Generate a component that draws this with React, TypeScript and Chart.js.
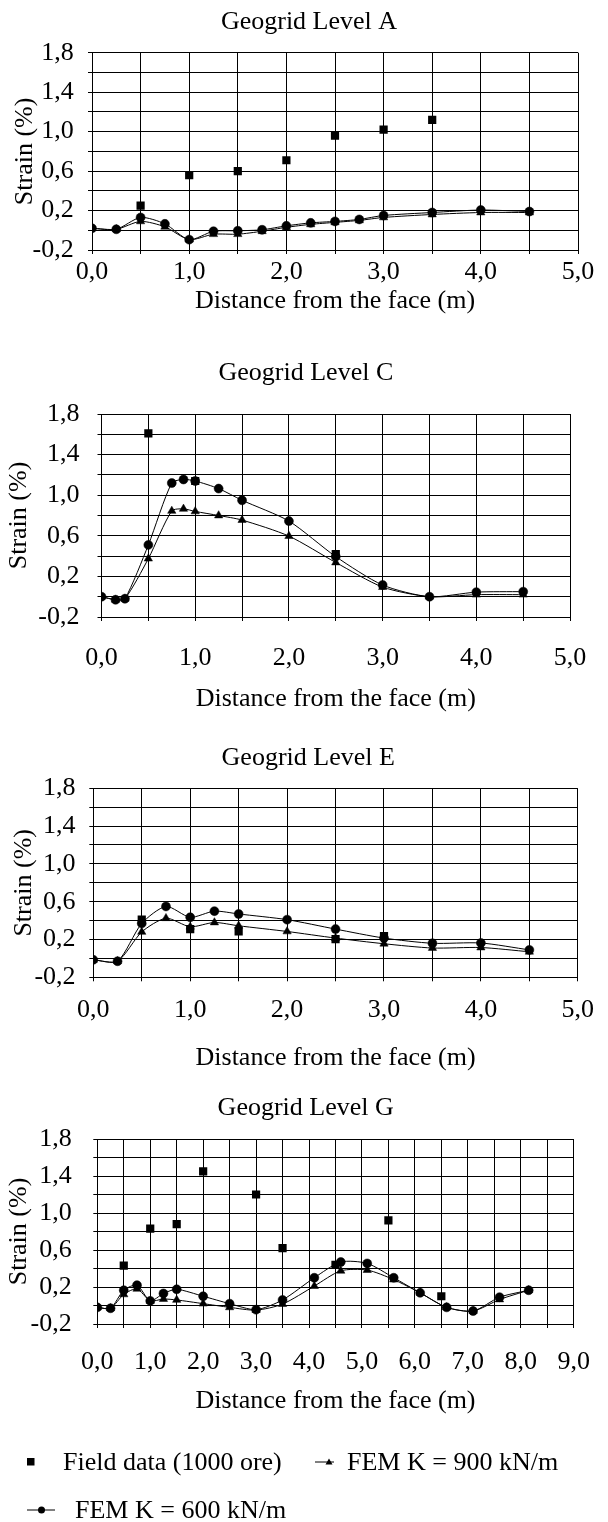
import React, { useEffect, useRef } from 'react';
import { Chart, registerables } from 'chart.js';

Chart.register(...registerables);

const FONT = "'Liberation Serif', 'Times New Roman', Times, serif";

// ---------- tick labels ----------
const yTickLabels = ['-0,2', '0,2', '0,6', '1,0', '1,4', '1,8'];
const xTickLabels5 = ['0,0', '1,0', '2,0', '3,0', '4,0', '5,0'];
const xTickLabels9 = ['0,0', '1,0', '2,0', '3,0', '4,0', '5,0', '6,0', '7,0', '8,0', '9,0'];

// ---------- series names ----------
const seriesNames = ['Field data (1000 ore)', 'FEM K = 900 kN/m', 'FEM K = 600 kN/m'];
const titles = ['Geogrid Level A', 'Geogrid Level C', 'Geogrid Level E', 'Geogrid Level G'];
const xTitle = 'Distance from the face (m)';
const yTitle = 'Strain (%)';

// ---------- Level A ----------
const xAField = [0.5, 1.0, 1.5, 2.0, 2.5, 3.0, 3.5];
const yAField = [0.25, 0.56, 0.6, 0.71, 0.96, 1.02, 1.12];
const xAFem = [0, 0.25, 0.5, 0.75, 1.0, 1.25, 1.5, 1.75, 2.0, 2.25, 2.5, 2.75, 3.0, 3.5, 4.0, 4.5];
const yA900 = [0.02, 0.01, 0.09, 0.035, -0.095, -0.04, -0.04, -0.01, 0.03, 0.06, 0.08, 0.1, 0.13, 0.16, 0.18, 0.18];
const yA600 = [0.02, 0.01, 0.13, 0.065, -0.095, -0.01, -0.005, 0.005, 0.045, 0.075, 0.09, 0.11, 0.15, 0.18, 0.205, 0.19];

// ---------- Level C ----------
const xCField = [0.5, 1.0, 2.5];
const yCField = [1.61, 1.14, 0.42];
const xCFem = [0, 0.15, 0.25, 0.5, 0.75, 0.875, 1.0, 1.25, 1.5, 2.0, 2.5, 3.0, 3.5, 4.0, 4.5];
const yC900 = [0.0, -0.03, -0.02, 0.375, 0.845, 0.865, 0.84, 0.8, 0.755, 0.597, 0.337, 0.095, 0.0, 0.02, 0.02];
const yC600 = [0.0, -0.03, -0.02, 0.51, 1.12, 1.155, 1.14, 1.065, 0.95, 0.745, 0.395, 0.115, 0.0, 0.045, 0.05];

// ---------- Level E ----------
const xEField = [0.5, 1.0, 1.5, 2.5, 3.0];
const yEField = [0.41, 0.31, 0.285, 0.205, 0.235];
const xEFem = [0, 0.25, 0.5, 0.75, 1.0, 1.25, 1.5, 2.0, 2.5, 3.0, 3.5, 4.0, 4.5];
const yE900 = [-0.015, -0.03, 0.28, 0.425, 0.335, 0.38, 0.345, 0.285, 0.215, 0.155, 0.11, 0.115, 0.07];
const yE600 = [-0.015, -0.03, 0.37, 0.55, 0.435, 0.5, 0.47, 0.41, 0.31, 0.215, 0.16, 0.163, 0.09];

// ---------- Level G ----------
const xGField = [0.5, 1.0, 1.5, 2.0, 3.0, 3.5, 4.5, 5.5, 6.5];
const yGField = [0.43, 0.83, 0.88, 1.45, 1.2, 0.62, 0.44, 0.92, 0.1];
const xGFem = [0, 0.25, 0.5, 0.75, 1.0, 1.25, 1.5, 2.0, 2.5, 3.0, 3.5, 4.1, 4.6, 5.1, 5.6, 6.1, 6.6, 7.1, 7.6, 8.15];
const yG900 = [-0.02, -0.03, 0.12, 0.18, 0.05, 0.07, 0.06, 0.02, -0.02, -0.05, 0.015, 0.21, 0.375, 0.383, 0.28, 0.137, -0.02, -0.06, 0.065, 0.165];
const yG600 = [-0.02, -0.03, 0.165, 0.22, 0.05, 0.13, 0.175, 0.1, 0.02, -0.045, 0.06, 0.3, 0.47, 0.455, 0.3, 0.137, -0.02, -0.06, 0.09, 0.165];

type Box = {
  T: number; L: number; R: number; PT: number; PB: number;
  titleY: number; xLabelY: number; xTitleY: number; yLabelRight: number; yTitleX: number;
};

type Panel = {
  title: string; xMax: number; xLabels: string[];
  fieldX: number[]; fieldY: number[]; femX: number[]; fem900: number[]; fem600: number[];
  box: Box;
};

const panels: Panel[] = [
  {
    title: titles[0], xMax: 5, xLabels: xTickLabels5,
    fieldX: xAField, fieldY: yAField, femX: xAFem, fem900: yA900, fem600: yA600,
    box: { T: 0, L: 92, R: 578, PT: 52.7, PB: 250, titleY: 21.7, xLabelY: 271.7, xTitleY: 301, yLabelRight: 73.7, yTitleX: 25.6 },
  },
  {
    title: titles[1], xMax: 5, xLabels: xTickLabels5,
    fieldX: xCField, fieldY: yCField, femX: xCFem, fem900: yC900, fem600: yC600,
    box: { T: 325, L: 101.5, R: 585, PT: 414, PB: 617, titleY: 373.3, xLabelY: 658.3, xTitleY: 699, yLabelRight: 79.5, yTitleX: 19.4 },
  },
  {
    title: titles[2], xMax: 5, xLabels: xTickLabels5,
    fieldX: xEField, fieldY: yEField, femX: xEFem, fem900: yE900, fem600: yE600,
    box: { T: 722, L: 93.3, R: 577.8, PT: 788.3, PB: 977.3, titleY: 758.3, xLabelY: 1010, xTitleY: 1058, yLabelRight: 75.6, yTitleX: 24 },
  },
  {
    title: titles[3], xMax: 9, xLabels: xTickLabels9,
    fieldX: xGField, fieldY: yGField, femX: xGFem, fem900: yG900, fem600: yG600,
    box: { T: 1080, L: 97.3, R: 581.5, PT: 1139, PB: 1324, titleY: 1108.3, xLabelY: 1361.7, xTitleY: 1401.5, yLabelRight: 71.7, yTitleX: 19 },
  },
];

const FS = 26;
const LH = FS * 1.2;
const TICK_LEN = 4;

function canvasHeight(b: Box) {
  return Math.round(b.xTitleY - b.T + LH / 2 + 6);
}

function PanelChart({ p }: { p: Panel }) {
  const ref = useRef<HTMLCanvasElement>(null);
  const b = p.box;
  const H = canvasHeight(b);

  useEffect(() => {
    if (!ref.current) return;
    const pl = b.yTitleX - LH / 2;
    const titleTop = b.titleY - b.T - LH / 2;
    const titleBottom = b.PT - b.T - LH - titleTop;
    const xh = b.T + H - b.PB;
    const xTitlePadBottom = b.T + H - LH / 2 - b.xTitleY;
    const tickFont = { family: FONT, size: FS, weight: 'normal' as const };

    const chart = new Chart(ref.current, {
      type: 'scatter',
      data: {
        datasets: [
          {
            label: seriesNames[0],
            data: p.fieldX.map((x, i) => ({ x, y: p.fieldY[i] })),
            pointStyle: 'rect',
            pointRadius: 5.8,
            backgroundColor: '#000',
            borderColor: '#000',
            borderWidth: 0,
            showLine: false,
          },
          {
            label: seriesNames[1],
            data: p.femX.map((x, i) => ({ x, y: p.fem900[i] })),
            pointStyle: 'triangle',
            pointRadius: 4.8,
            pointBackgroundColor: '#000',
            pointBorderColor: '#000',
            pointBorderWidth: 0.5,
            borderColor: '#000',
            backgroundColor: '#000',
            borderWidth: 1,
            showLine: true,
            tension: 0.25,
          },
          {
            label: seriesNames[2],
            data: p.femX.map((x, i) => ({ x, y: p.fem600[i] })),
            pointStyle: 'circle',
            pointRadius: 4.5,
            pointBackgroundColor: '#000',
            pointBorderColor: '#000',
            pointBorderWidth: 0.5,
            borderColor: '#000',
            backgroundColor: '#000',
            borderWidth: 1,
            showLine: true,
            tension: 0.25,
          },
        ],
      },
      options: {
        responsive: false,
        animation: false,
        devicePixelRatio: 1,
        layout: { padding: { left: pl, right: 0, top: 0, bottom: 0 } },
        plugins: {
          legend: { display: false },
          tooltip: { enabled: false },
          title: {
            display: true,
            text: p.title,
            color: '#000',
            font: { family: FONT, size: FS, weight: 'normal' },
            padding: { top: titleTop, bottom: titleBottom },
          },
        },
        scales: {
          x: {
            type: 'linear',
            position: 'bottom',
            min: 0,
            max: p.xMax,
            ticks: {
              stepSize: 0.5,
              autoSkip: false,
              maxRotation: 0,
              minRotation: 0,
              color: '#000',
              font: tickFont,
              padding: b.xLabelY - b.PB - LH / 2 - TICK_LEN,
              callback: (_v: any, i: number) => (i % 2 === 0 ? p.xLabels[i / 2] : ''),
            },
            grid: { color: '#000', lineWidth: 1, tickLength: TICK_LEN },
            border: { color: '#000', width: 1 },
            title: {
              display: true,
              text: xTitle,
              color: '#000',
              font: { family: FONT, size: FS, weight: 'normal' },
              padding: { top: 0, bottom: xTitlePadBottom },
            },
            afterFit: (s: any) => {
              s.height = xh;
            },
          },
          y: {
            type: 'linear',
            position: 'left',
            min: -0.2,
            max: 1.8,
            ticks: {
              stepSize: 0.2,
              autoSkip: false,
              color: '#000',
              font: tickFont,
              padding: b.L - b.yLabelRight - TICK_LEN,
              callback: (_v: any, i: number) => (i % 2 === 0 ? yTickLabels[i / 2] : ''),
            },
            grid: { color: '#000', lineWidth: 1, tickLength: TICK_LEN },
            border: { color: '#000', width: 1 },
            title: {
              display: true,
              text: yTitle,
              color: '#000',
              font: { family: FONT, size: FS, weight: 'normal' },
              padding: { top: 0, bottom: 0 },
            },
            afterFit: (s: any) => {
              s.width = b.L - pl;
            },
          },
          yR: {
            type: 'linear',
            position: 'right',
            display: true,
            grid: { display: false },
            border: { display: false },
            ticks: { display: false },
            afterFit: (s: any) => {
              s.width = 608 - b.R;
            },
          },
        },
      } as any,
    });
    return () => chart.destroy();
  }, []);

  return (
    <canvas
      ref={ref}
      width={608}
      height={H}
      style={{ position: 'absolute', left: 0, top: b.T, width: 608, height: H, display: 'block' }}
    />
  );
}

function LegendText({ text, left, capY }: { text: string; left: number; capY: number }) {
  return (
    <div
      style={{
        position: 'absolute',
        left,
        top: capY - 15.2,
        lineHeight: '30px',
        fontSize: FS,
        fontFamily: FONT,
        whiteSpace: 'nowrap',
        color: '#000',
      }}
    >
      {text}
    </div>
  );
}

export default function App() {
  return (
    <div style={{ position: 'absolute', left: 0, top: 0, width: 608, height: 1522, background: '#fff', overflow: 'hidden' }}>
      {panels.map((p, i) => (
        <PanelChart key={i} p={p} />
      ))}
      <svg width={608} height={1522} style={{ position: 'absolute', left: 0, top: 0 }}>
        <rect x={27} y={1458} width={7.5} height={7.5} fill="#000" />
        <line x1={315} y1={1462} x2={334} y2={1462} stroke="#000" strokeWidth={1} />
        <polygon points="329,1458.5 325.5,1464.5 332.5,1464.5" fill="#000" />
        <line x1={27} y1={1510} x2={55} y2={1510} stroke="#000" strokeWidth={1} />
        <circle cx={41.5} cy={1510} r={3.5} fill="#000" />
      </svg>
      <LegendText text={seriesNames[0]} left={63} capY={1462} />
      <LegendText text={seriesNames[1]} left={347} capY={1462} />
      <LegendText text={seriesNames[2]} left={75} capY={1510} />
    </div>
  );
}
